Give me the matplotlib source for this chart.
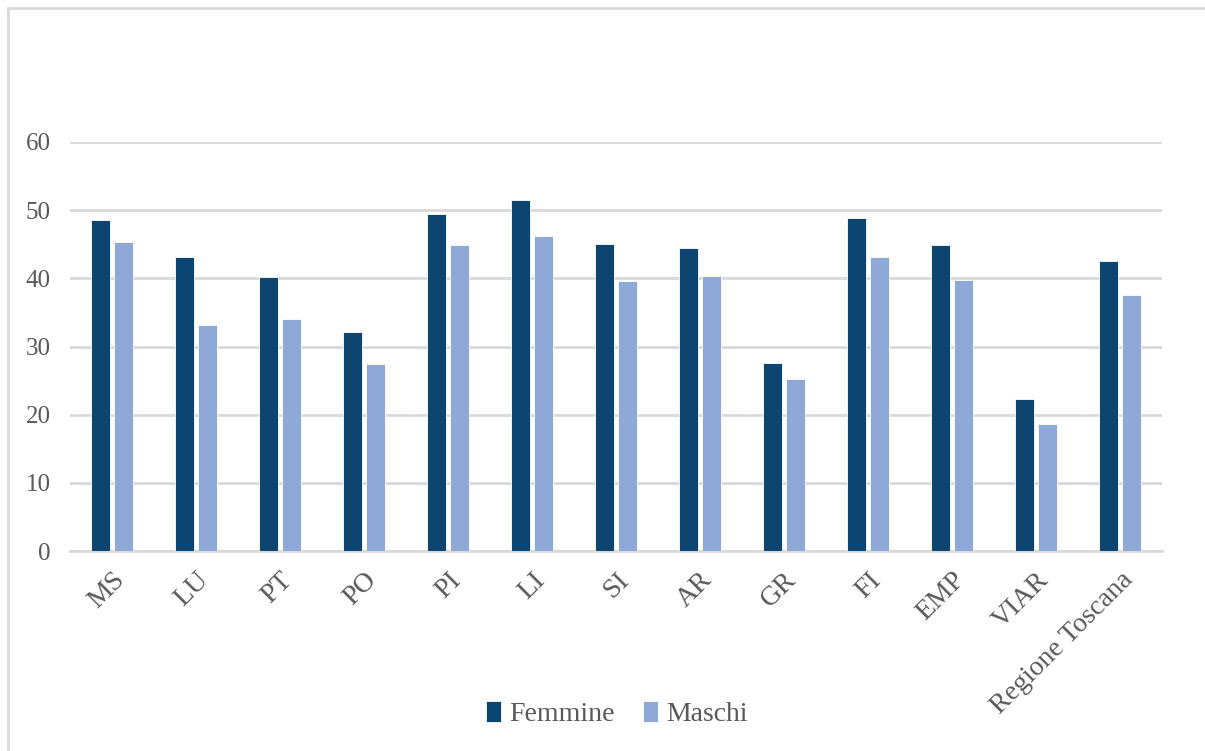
import matplotlib.pyplot as plt
import numpy as np
from matplotlib.lines import Line2D

# data
categorie = ["MS", "LU", "PT", "PO", "PI", "LI", "SI", "AR", "GR", "FI", "EMP", "VIAR", "Regione Toscana"]
femmine = [48.5, 43.2, 40.2, 32.1, 49.4, 51.5, 45.1, 44.4, 27.6, 48.9, 44.9, 22.3, 42.6]
maschi = [45.3, 33.2, 34.0, 27.4, 44.9, 46.2, 39.6, 40.4, 25.3, 43.1, 39.8, 18.7, 37.6]
yticks = [0, 10, 20, 30, 40, 50, 60]

col_f = "#0C4571"
col_m = "#8EA9D8"
grid_col = "#D9D9D9"
text_col = "#595959"

plt.rcParams['font.family'] = ['Liberation Serif', 'DejaVu Serif']

fig = plt.figure(figsize=(12.05, 7.51), dpi=100)
ax = fig.add_axes([70 / 1205, 1 - 551 / 751, (1162 - 70) / 1205, (551 - 142) / 751])

x = np.arange(len(categorie))
w = 0.22
ax.bar(x - 0.139, femmine, w, color=col_f, edgecolor="white", linewidth=0.6, label="Femmine", zorder=3)
ax.bar(x + 0.139, maschi, w, color=col_m, edgecolor="white", linewidth=0.6, label="Maschi", zorder=3)

ax.set_xlim(-0.5, len(categorie) - 0.5)
ax.set_ylim(0, 60)
ax.set_yticks(yticks)
ax.set_yticklabels([str(t) for t in yticks], fontsize=18, color=text_col)
ax.yaxis.grid(True, color=grid_col, linewidth=2, zorder=0)
ax.tick_params(axis="both", length=0)
ax.tick_params(axis="y", pad=14)
for s in ["top", "right", "left"]:
    ax.spines[s].set_visible(False)
ax.spines["bottom"].set_color(grid_col)
ax.spines["bottom"].set_linewidth(2)

ax.set_xticks(x)
ax.set_xticklabels(categorie, rotation=45, ha="right", rotation_mode="anchor",
                   fontsize=20, color=text_col)
ax.tick_params(axis="x", pad=12)

leg = ax.legend(loc="center", bbox_to_anchor=(617 / 1205, 1 - 714 / 751),
                bbox_transform=fig.transFigure, ncol=2, frameon=False,
                fontsize=20, handlelength=0.55, handleheight=0.8,
                handletextpad=0.3, columnspacing=1.0)
for t in leg.get_texts():
    t.set_color(text_col)

# outer chart border (top and left visible)
fig.add_artist(Line2D([8 / 1205, 8 / 1205], [0, 1 - 8 / 751], color=grid_col, linewidth=2))
fig.add_artist(Line2D([8 / 1205, 1], [1 - 8 / 751, 1 - 8 / 751], color=grid_col, linewidth=2))

fig.savefig("out.png", dpi=100)
